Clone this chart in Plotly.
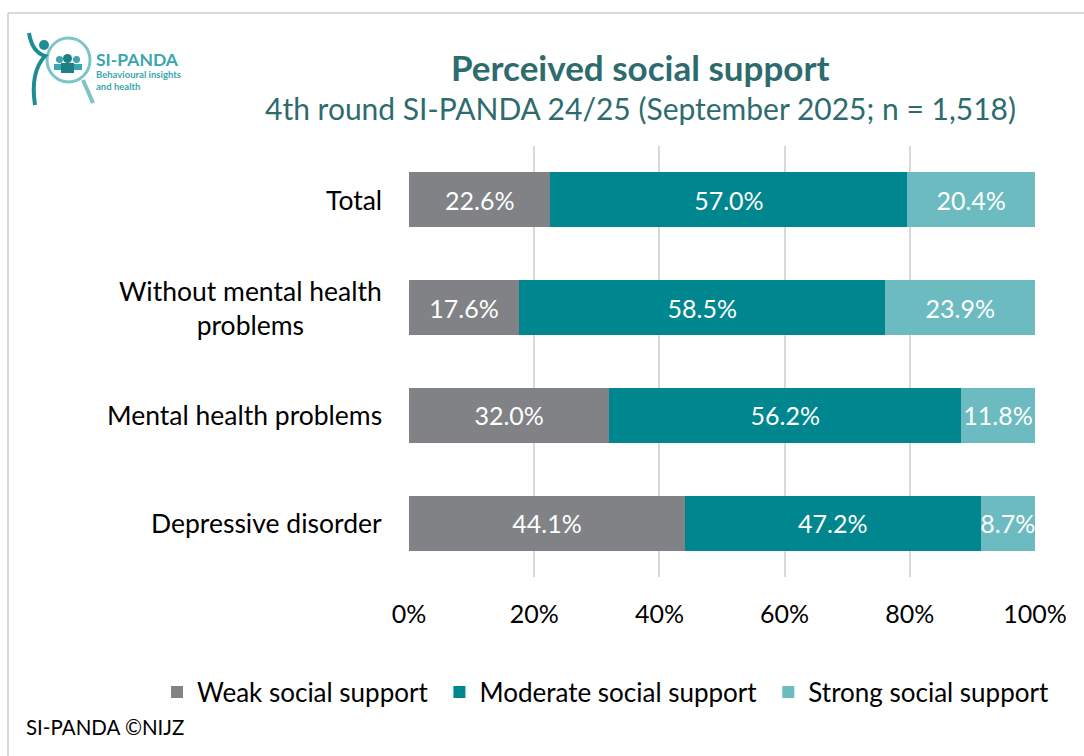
import plotly.graph_objects as go

# Survey results: perceived social support by group (percent of respondents)
groups = ["Total", "Without mental health<br>problems", "Mental health problems", "Depressive disorder"]
weak = [22.6, 17.6, 32.0, 44.1]
moderate = [57.0, 58.5, 56.2, 47.2]
strong = [20.4, 23.9, 11.8, 8.7]
series_names = ["Weak social support", "Moderate social support", "Strong social support"]
series_colors = ["#808285", "#00868F", "#6BBBC1"]
x_ticks = [0, 20, 40, 60, 80, 100]
x_tick_labels = ["0%", "20%", "40%", "60%", "80%", "100%"]

W, H = 1084, 756
FONT = "Lato"
TEAL_DARK = "#2E6B6E"
PAD = "\u00a0"  # extra spacing between legend entries


def px(x):
    return x / W


def py(y):
    return 1 - y / H


fig = go.Figure()
for i, (name, vals, col) in enumerate(zip(series_names, [weak, moderate, strong], series_colors)):
    fig.add_trace(go.Bar(
        y=groups, x=vals, name=name + (PAD if i < 2 else ""), orientation="h",
        marker=dict(color=col, line=dict(width=0)),
        text=[f"{v:.1f}%" for v in vals],
        textposition="inside", insidetextanchor="middle", textangle=0,
        textfont=dict(color="white", size=25, family=FONT),
        constraintext="none",
        hoverinfo="skip",
    ))

# Category labels, centred line by line, right-aligned to the axis
annotations = []
for g in groups:
    annotations.append(dict(
        x=px(384), xref="paper", y=g, yref="y",
        text=g, showarrow=False, xanchor="right", yanchor="middle",
        align="center", font=dict(size=26.5, family=FONT, color="#000000"),
    ))

# Titles
annotations += [
    dict(x=px(640), y=py(67), xref="paper", yref="paper", showarrow=False,
         text="<b>Perceived social support</b>", xanchor="center", yanchor="middle",
         font=dict(size=35, family=FONT, color=TEAL_DARK)),
    dict(x=px(640), y=py(108), xref="paper", yref="paper", showarrow=False,
         text="4th round SI-PANDA 24/25 (September 2025; n = 1,518)",
         xanchor="center", yanchor="middle",
         font=dict(size=30, family=FONT, color=TEAL_DARK)),
    dict(x=px(24), y=py(727), xref="paper", yref="paper", showarrow=False,
         text="SI-PANDA ©NIJZ", xanchor="left", yanchor="middle",
         font=dict(size=20.5, family=FONT, color="#000000")),
    # Logo wordmark
    dict(x=px(94), y=py(60), xref="paper", yref="paper", showarrow=False,
         text="<b>SI-PANDA</b>", xanchor="left", yanchor="middle",
         font=dict(size=17.5, family=FONT, color="#3AA6AD")),
    dict(x=px(94), y=py(80), xref="paper", yref="paper", showarrow=False,
         text="<b>Behavioural insights<br>and health</b>", xanchor="left", yanchor="middle",
         align="left", font=dict(size=9.5, family=FONT, color="#3AA6AD")),
]

shapes = [
    # Frame
    dict(type="line", xref="paper", yref="paper", x0=px(8), x1=1, y0=py(13), y1=py(13),
         line=dict(color="#D9D9D9", width=2)),
    dict(type="line", xref="paper", yref="paper", x0=px(8), x1=px(8), y0=py(13), y1=0,
         line=dict(color="#D9D9D9", width=2)),
    # Logo: magnifier ring and handle
    dict(type="circle", xref="paper", yref="paper", x0=px(47), x1=px(90), y0=py(38), y1=py(82),
         line=dict(color="#7CC4C8", width=3)),
    dict(type="line", xref="paper", yref="paper", x0=px(83), x1=px(93), y0=py(80), y1=py(103),
         line=dict(color="#7CC4C8", width=4)),
    # Logo: figure body
    dict(type="path", xref="paper", yref="paper",
         path=f"M {px(29)},{py(33)} Q {px(32)},{py(52)} {px(45)},{py(56)} "
              f"Q {px(30)},{py(72)} {px(35)},{py(105)}",
         line=dict(color="#1F8C93", width=4)),
    dict(type="circle", xref="paper", yref="paper", x0=px(39), x1=px(49), y0=py(40), y1=py(50),
         fillcolor="#1F8C93", line=dict(width=0)),
    # Logo: people inside the lens
    dict(type="circle", xref="paper", yref="paper", x0=px(56), x1=px(63), y0=py(56), y1=py(63),
         fillcolor="#3AA6AD", line=dict(width=0)),
    dict(type="circle", xref="paper", yref="paper", x0=px(73), x1=px(80), y0=py(56), y1=py(63),
         fillcolor="#3AA6AD", line=dict(width=0)),
    dict(type="circle", xref="paper", yref="paper", x0=px(63), x1=px(72), y0=py(54), y1=py(63),
         fillcolor="#1F7F86", line=dict(width=0)),
    dict(type="rect", xref="paper", yref="paper", x0=px(54), x1=px(82), y0=py(64), y1=py(70),
         fillcolor="#3AA6AD", line=dict(width=0)),
    dict(type="rect", xref="paper", yref="paper", x0=px(61), x1=px(74), y0=py(63), y1=py(73),
         fillcolor="#1F7F86", line=dict(width=0)),
]

fig.update_layout(
    width=W, height=H,
    margin=dict(l=0, r=0, t=0, b=0, autoexpand=False),
    paper_bgcolor="white", plot_bgcolor="white",
    barmode="stack", bargap=0.49,
    uniformtext=dict(minsize=25, mode="show"),
    font=dict(family=FONT, color="#000000"),
    showlegend=True,
    legend=dict(orientation="h", x=px(157), y=py(692), xanchor="left", yanchor="middle",
                font=dict(size=26, family=FONT, color="#000000"),
                itemwidth=30, traceorder="normal", itemclick=False, itemdoubleclick=False),
    annotations=annotations,
    shapes=shapes,
    xaxis=dict(domain=[px(409), px(1035)], range=[0, 100], tickvals=x_ticks,
               ticktext=x_tick_labels, showgrid=True, gridcolor="#D9D9D9", gridwidth=1.5,
               zeroline=False, showline=False, ticks="", ticklabelstandoff=20,
               tickfont=dict(size=25, family=FONT, color="#000000"), fixedrange=True),
    yaxis=dict(domain=[py(577), py(146)], autorange="reversed", showticklabels=False,
               showgrid=False, zeroline=False, showline=False, ticks="", fixedrange=True),
)

fig.write_html("out.html", config={"displayModeBar": False})
